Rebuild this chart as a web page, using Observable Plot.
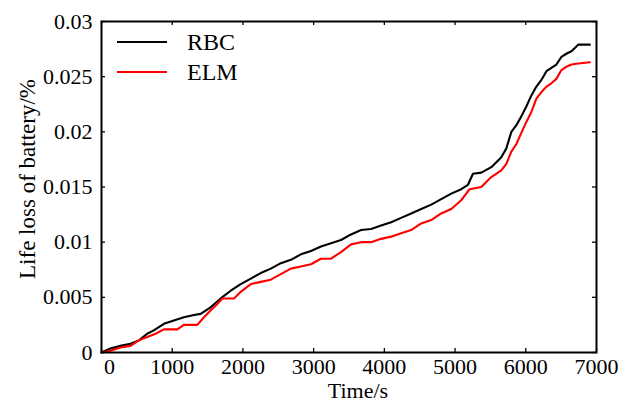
<!DOCTYPE html>
<html>
<head>
<meta charset="utf-8">
<script src="https://cdn.jsdelivr.net/npm/d3@7"></script>
<script src="https://cdn.jsdelivr.net/npm/@observablehq/plot@0.6"></script>
<style>
html,body{margin:0;padding:0;background:#fff;}
#chart{width:618px;height:403px;}
</style>
</head>
<body>
<div id="chart"></div>
<script>
const xTicks = [0, 1000, 2000, 3000, 4000, 5000, 6000, 7000];
const yTicks = [0, 0.005, 0.01, 0.015, 0.02, 0.025, 0.03];
const yTickLabels = ["0", "0.005", "0.01", "0.015", "0.02", "0.025", "0.03"];
const seriesNames = ["RBC", "ELM"];
const seriesColors = ["#000000", "#ff0000"];

const rbcTime = [0,126,268,410,529,646,740,882,1023,1165,1307,1402,1543,1685,1827,1969,2111,2252,2394,2536,2678,2820,2962,3104,3245,3387,3529,3671,3812,3954,4096,4237,4379,4521,4663,4804,4946,5087,5182,5253,5371,5512,5654,5725,5772,5796,5867,5937,6008,6079,6150,6221,6292,6362,6433,6504,6580,6646,6741,6906];
const rbcLoss = [0,0.00036,0.0006,0.0008,0.0011,0.0017,0.0020,0.0026,0.0029,0.0032,0.0034,0.0035,0.0041,0.0049,0.0056,0.0062,0.0067,0.0072,0.0076,0.0081,0.0084,0.0089,0.0092,0.0096,0.0099,0.0102,0.0107,0.0111,0.0112,0.0115,0.0118,0.0122,0.0126,0.0130,0.0134,0.0139,0.0144,0.0148,0.0152,0.0162,0.0163,0.0168,0.0177,0.0185,0.0195,0.0200,0.0206,0.0214,0.0223,0.0233,0.0241,0.0247,0.0255,0.0258,0.0261,0.0268,0.0271,0.0273,0.0279,0.0279];

const elmTime = [0,126,268,410,529,646,764,882,1072,1165,1355,1449,1543,1638,1709,1874,1969,2111,2252,2394,2536,2678,2820,2962,3104,3245,3387,3529,3671,3812,3954,4096,4237,4379,4521,4663,4804,4946,5087,5206,5371,5512,5654,5725,5796,5867,5937,6008,6079,6150,6221,6292,6362,6433,6504,6575,6646,6741,6906];
const elmLoss = [0,0.00015,0.00045,0.0006,0.0011,0.0014,0.0017,0.0021,0.0021,0.0025,0.0025,0.0032,0.0038,0.0044,0.0049,0.0049,0.0055,0.0062,0.0064,0.0066,0.0071,0.0076,0.0078,0.0080,0.0085,0.0085,0.0091,0.0098,0.0100,0.0100,0.0103,0.0105,0.0108,0.0111,0.0117,0.0120,0.0126,0.0130,0.0138,0.0148,0.0150,0.0159,0.0165,0.0171,0.0182,0.0189,0.0199,0.0209,0.0218,0.0230,0.0236,0.0241,0.0244,0.0248,0.0256,0.0259,0.0261,0.0262,0.0263];

const rbc = rbcTime.map((t, i) => ({t, v: rbcLoss[i]}));
const elm = elmTime.map((t, i) => ({t, v: elmLoss[i]}));

const W = 618, H = 403, mL = 101, mR = 22, mT = 21, mB = 51;
const pw = W - mL - mR, ph = H - mT - mB, tl = 4;
const FONT = "'Liberation Serif', 'Times New Roman', serif";

const chart = Plot.plot({
  width: W, height: H,
  marginLeft: mL, marginRight: mR, marginTop: mT, marginBottom: mB,
  x: {domain: [0, 7000]},
  y: {domain: [0, 0.03]},
  style: {fontFamily: FONT, fontSize: "22px", color: "#000", background: "#fff"},
  marks: [
    Plot.line(rbc, {x: "t", y: "v", stroke: seriesColors[0], strokeWidth: 2.1}),
    Plot.line(elm, {x: "t", y: "v", stroke: seriesColors[1], strokeWidth: 2.1}),
    Plot.frame({stroke: "#000", strokeWidth: 2}),
    Plot.tickX(xTicks, {x: d => d, insetTop: ph - tl, stroke: "#000", strokeWidth: 1.3}),
    Plot.tickX(xTicks, {x: d => d, insetBottom: ph - tl, stroke: "#000", strokeWidth: 1.3}),
    Plot.tickY(yTicks, {y: d => d, insetRight: pw - tl, stroke: "#000", strokeWidth: 1.3}),
    Plot.tickY(yTicks, {y: d => d, insetLeft: pw - tl, stroke: "#000", strokeWidth: 1.3}),
    Plot.axisX({ticks: xTicks.filter(d => d > 0), tickSize: 0, tickPadding: 6, label: null, fontSize: 22, tickFormat: d => String(d)}),
    Plot.axisX({ticks: [0], tickSize: 0, tickPadding: 6, dx: 8, label: null, fontSize: 22, tickFormat: d => String(d)}),
    Plot.axisY({ticks: yTicks, tickSize: 0, tickPadding: 9, label: null, fontSize: 22,
      tickFormat: d => yTickLabels[yTicks.indexOf(d)]}),
    Plot.text(["Time/s"], {text: d => d, frameAnchor: "bottom", lineAnchor: "middle", dx: 9, dy: 38, fontSize: 22}),
    Plot.text(["Life loss of battery/%"], {text: d => d, frameAnchor: "left", textAnchor: "middle", lineAnchor: "middle", rotate: -90, dx: -74, dy: -8, fontSize: 23})
  ]
});

// legend (inside the frame, top-left)
const svg = d3.select(chart);
const lg = svg.append("g").attr("font-family", FONT).attr("font-size", 24).attr("text-anchor", "start");
seriesNames.forEach((name, i) => {
  const y = 42 + i * 30;
  lg.append("line").attr("x1", 117).attr("x2", 167).attr("y1", y).attr("y2", y)
    .attr("stroke", seriesColors[i]).attr("stroke-width", 2);
  lg.append("text").attr("x", 187).attr("y", y).attr("dy", "0.35em").attr("fill", "#000").text(name);
});

document.getElementById("chart").appendChild(chart);
</script>
</body>
</html>
